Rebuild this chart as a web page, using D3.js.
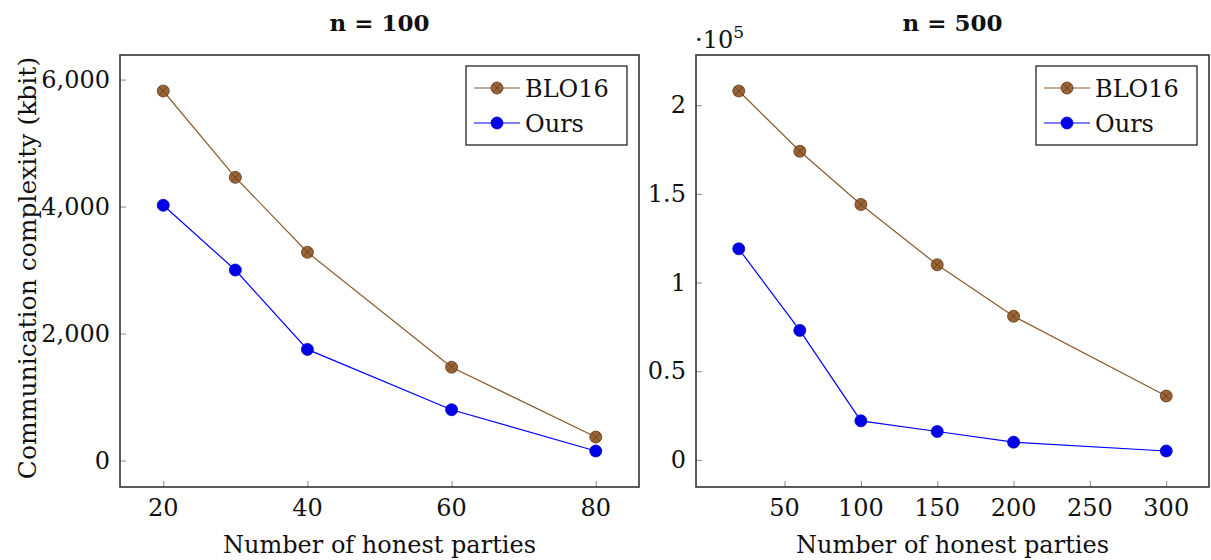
<!DOCTYPE html>
<html>
<head>
<meta charset="utf-8">
<script src="https://cdn.jsdelivr.net/npm/d3@7"></script>
<style>
  body { margin: 0; background: #fff; }
  text { font-family: "DejaVu Serif", "Liberation Serif", serif; fill: #111; }
</style>
</head>
<body>
<svg id="chart" width="1211" height="560"></svg>
<script>
// panel 1: n = 100
const parties100 = [20, 30, 40, 60, 80];
const blo100 = [5820, 4460, 3280, 1470, 370];
const ours100 = [4020, 3000, 1750, 800, 150];
const xTicks100 = [20, 40, 60, 80];
const yTicks100 = [0, 2000, 4000, 6000];

// panel 2: n = 500 (values in units of 10^5)
const parties500 = [20, 60, 100, 150, 200, 300];
const blo500 = [2.08, 1.74, 1.44, 1.10, 0.81, 0.36];
const ours500 = [1.19, 0.73, 0.22, 0.16, 0.10, 0.05];
const xTicks500 = [50, 100, 150, 200, 250, 300];
const yTicks500 = [0, 0.5, 1, 1.5, 2];

const seriesNames = ["BLO16", "Ours"];

const svg = d3.select("#chart");

const brown = { line: "#8a5a2c", fill: "#9c6334", edge: "#5e3a1a" };
const blue = { line: "#0000ff", fill: "#0000e6", edge: "#0000c0" };

// pgfplots style: enlarge limits by 10% of the data range
const enlarge = ext => {
  const pad = (ext[1] - ext[0]) * 0.1;
  return [ext[0] - pad, ext[1] + pad];
};

const drawPanel = (opts) => {
  const { left, right, top, bottom, xs, s1, s2, xTicks, yTicks, yFmt, title } = opts;

  const x = d3.scaleLinear().domain(enlarge(d3.extent(xs))).range([left, right]);
  const y = d3.scaleLinear().domain(enlarge(d3.extent(s1.concat(s2)))).range([bottom, top]);

  const g = svg.append("g");

  // ticks (inside, left and bottom only)
  g.append("g")
    .attr("transform", `translate(${left},0)`)
    .call(d3.axisRight(y).tickValues(yTicks).tickSize(6).tickFormat(""))
    .call(a => a.select(".domain").remove())
    .call(a => a.selectAll("line").attr("stroke", "#8a8a8a"));
  g.append("g")
    .attr("transform", `translate(0,${bottom})`)
    .call(d3.axisTop(x).tickValues(xTicks).tickSize(6).tickFormat(""))
    .call(a => a.select(".domain").remove())
    .call(a => a.selectAll("line").attr("stroke", "#8a8a8a"));

  // tick labels
  g.selectAll(".ylab").data(yTicks).enter().append("text")
    .attr("x", left - 10)
    .attr("y", d => y(d) + 8)
    .attr("text-anchor", "end")
    .attr("font-size", 24)
    .text(yFmt);
  g.selectAll(".xlab").data(xTicks).enter().append("text")
    .attr("x", d => x(d))
    .attr("y", bottom + 29)
    .attr("text-anchor", "middle")
    .attr("font-size", 24)
    .text(d => d);

  // frame
  g.append("rect")
    .attr("x", left).attr("y", top)
    .attr("width", right - left).attr("height", bottom - top)
    .attr("fill", "none").attr("stroke", "#333").attr("stroke-width", 1.6);

  // title and x label
  g.append("text")
    .attr("x", (left + right) / 2).attr("y", 31)
    .attr("text-anchor", "middle")
    .attr("font-size", 23).attr("font-weight", "bold")
    .text(title);
  g.append("text")
    .attr("x", (left + right) / 2).attr("y", 553)
    .attr("text-anchor", "middle")
    .attr("font-size", 24)
    .text("Number of honest parties");

  const line = d3.line().x((d, i) => x(xs[i])).y(d => y(d));

  const drawSeries = (vals, c, crossed) => {
    g.append("path")
      .attr("d", line(vals))
      .attr("fill", "none")
      .attr("stroke", c.line)
      .attr("stroke-width", 1.2);
    const m = g.selectAll(null).data(vals).enter().append("g")
      .attr("transform", (d, i) => `translate(${x(xs[i])},${y(d)})`);
    m.append("circle").attr("r", 6).attr("fill", c.fill).attr("stroke", c.edge).attr("stroke-width", 0.8);
    if (crossed) {
      m.append("path").attr("d", "M-4,-4L4,4M-4,4L4,-4")
        .attr("stroke", c.edge).attr("stroke-width", 0.8);
    }
  };
  drawSeries(s1, brown, true);
  drawSeries(s2, blue, false);

  // legend
  const lx = right - 173, ly = top + 11;
  const lg = g.append("g").attr("transform", `translate(${lx},${ly})`);
  lg.append("rect").attr("width", 161).attr("height", 79)
    .attr("fill", "#fff").attr("stroke", "#111").attr("stroke-width", 1.2);
  [[brown, true], [blue, false]].forEach(([c, crossed], i) => {
    const cy = 22 + i * 35;
    lg.append("line").attr("x1", 8).attr("x2", 54).attr("y1", cy).attr("y2", cy)
      .attr("stroke", c.line).attr("stroke-width", 1.2);
    lg.append("circle").attr("cx", 31).attr("cy", cy).attr("r", 6)
      .attr("fill", c.fill).attr("stroke", c.edge).attr("stroke-width", 0.8);
    if (crossed) {
      lg.append("path").attr("d", `M27,${cy - 4}L35,${cy + 4}M27,${cy + 4}L35,${cy - 4}`)
        .attr("stroke", c.edge).attr("stroke-width", 0.8);
    }
    lg.append("text").attr("x", 59).attr("y", cy + 9)
      .attr("font-size", 24).text(seriesNames[i]);
  });

  return { x, y };
};

drawPanel({
  left: 120, right: 639, top: 55, bottom: 487,
  xs: parties100, s1: blo100, s2: ours100,
  xTicks: xTicks100, yTicks: yTicks100,
  yFmt: d3.format(","), title: "n = 100"
});

drawPanel({
  left: 696, right: 1209, top: 55, bottom: 487,
  xs: parties500, s1: blo500, s2: ours500,
  xTicks: xTicks500, yTicks: yTicks500,
  yFmt: d => String(d), title: "n = 500"
});

// y axis label (left panel)
svg.append("text")
  .attr("transform", "translate(36,268) rotate(-90)")
  .attr("text-anchor", "middle")
  .attr("font-size", 25)
  .text("Communication complexity (kbit)");

// scale factor label for right panel
const sf = svg.append("text").attr("x", 695).attr("y", 48).attr("font-size", 24);
sf.append("tspan").text("·10");
sf.append("tspan").attr("dy", -10).attr("font-size", 17).text("5");
</script>
</body>
</html>
